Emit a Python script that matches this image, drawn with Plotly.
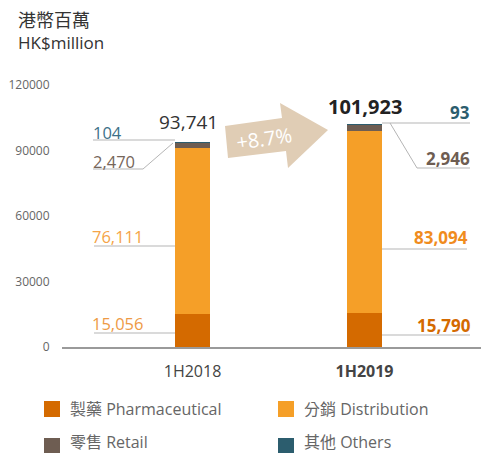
import plotly.graph_objects as go

# ---------------- data ----------------
categories = ["1H2018", "1H2019"]
tick_labels = ["1H2018", "<b>1H2019</b>"]
pharmaceutical = [15056, 15790]
distribution = [76111, 83094]
retail = [2470, 2946]
others = [104, 93]
totals = [93741, 101923]
growth_label = "+8.7%"
y_ticks = [0, 30000, 60000, 90000, 120000]

series_names = ["製藥 Pharmaceutical", "分銷 Distribution", "零售 Retail", "其他 Others"]
series_colors = ["#D46A00", "#F59F28", "#6E5D52", "#2C5D6E"]

FONT = "Open Sans, Noto Sans CJK TC, sans-serif"
PAGE_W, PAGE_H = 489, 453
OFF = 8  # default page body margin
W, H = PAGE_W - OFF, PAGE_H - OFF
L, R, T, B = 62, 488, 85, 347  # plot area in page pixels


def px(x):
    return (x - L) / (R - L)


def py(y):
    return (B - y) / (B - T)


fig = go.Figure()
xs = list(range(len(categories)))
for vals, name, col in zip([pharmaceutical, distribution, retail, others], series_names, series_colors):
    fig.add_trace(go.Bar(x=xs, y=vals, name=name, marker=dict(color=col, line=dict(width=0)),
                         width=35 / 172, showlegend=False, hoverinfo="y+name"))

shapes = []
annotations = []
LINE = dict(color="#B5B5B5", width=1)


def hline(x0, x1, y):
    shapes.append(dict(type="line", xref="paper", yref="paper", x0=px(x0), x1=px(x1),
                       y0=py(y), y1=py(y), line=LINE))


def path(points, **kw):
    d = "M " + " L ".join(f"{px(a)},{py(b)}" for a, b in points)
    if kw.get("closed"):
        d += " Z"
    s = dict(type="path", xref="paper", yref="paper", path=d)
    if kw.get("closed"):
        s.update(fillcolor=kw["fill"], line=dict(width=0))
    else:
        s.update(line=LINE)
    shapes.append(s)


def text(x, y, t, size, color, xanchor="center", bold=False, angle=0, align="center"):
    annotations.append(dict(xref="paper", yref="paper", x=px(x), y=py(y), text=f"<b>{t}</b>" if bold else t,
                            showarrow=False, xanchor=xanchor, yanchor="middle", textangle=angle, align=align,
                            borderpad=0, font=dict(family=FONT, size=size, color=color)))


def fmt(v):
    return f"{v:,}"


# ---- 1H2018 labels (left side) ----
hline(93, 175, 140)
text(92, 132, fmt(others[0]), 16.5, "#3C7088", "left")
path([(93, 169), (143, 169), (173, 143)])
text(92, 161, fmt(retail[0]), 16.5, "#76665A", "left")
hline(94, 175, 246)
text(91, 236, fmt(distribution[0]), 16.5, "#F5A447", "left")
hline(94, 175, 333)
text(91, 323, fmt(pharmaceutical[0]), 16.5, "#EE9A45", "left")
text(188, 122, fmt(totals[0]), 19, "#333333")

# ---- 1H2019 labels (right side) ----
hline(382, 470, 123)
text(471, 113, fmt(others[1]), 17, "#2C5D6E", "right", bold=True)
path([(390, 123), (417, 168), (470, 168)])
text(471, 158, fmt(retail[1]), 17, "#6E5D52", "right", bold=True)
hline(382, 467, 249)
text(469, 237, fmt(distribution[1]), 17, "#F08C1E", "right", bold=True)
hline(382, 470, 335)
text(472, 325, fmt(pharmaceutical[1]), 17, "#D46A00", "right", bold=True)
text(365, 106, fmt(totals[1]), 20, "#222222", bold=True)

# ---- growth arrow ----
path([(225, 126), (282, 118), (280, 103), (328, 130), (288, 168), (286, 151), (228, 158)],
     closed=True, fill="#E0CDB5")
text(264, 138, growth_label, 20, "#FFFFFF", angle=-8)

# ---- unit title ----
text(17, 31, "<span style='font-size:18px'>港幣百萬</span><br>HK$million", 17, "#333333", "left", align="left")

# ---- legend (manual) ----
legend_pos = [(44, 401), (278, 401), (44, 438), (278, 438)]
for (lx, ly), i in zip(legend_pos, range(len(series_names))):
    shapes.append(dict(type="rect", xref="paper", yref="paper", x0=px(lx), x1=px(lx + 16),
                       y0=py(ly), y1=py(ly + 16), fillcolor=series_colors[i], line=dict(width=0)))
    text(lx + 25, min(ly + 8, 442), series_names[i], 16, "#666666", "left")

fig.update_layout(
    width=W, height=H,
    margin=dict(l=L - OFF, r=PAGE_W - R, t=T - OFF, b=PAGE_H - B, pad=0),
    barmode="stack",
    plot_bgcolor="white", paper_bgcolor="white",
    font=dict(family=FONT),
    shapes=shapes, annotations=annotations,
    showlegend=False,
    xaxis=dict(range=[-(192.5 - L) / 172, (R - 192.5) / 172], tickvals=xs, ticktext=tick_labels,
               showline=True, linecolor="#9A9A9A", linewidth=2, showgrid=False, zeroline=False,
               ticks="outside", ticklen=9, tickcolor="rgba(0,0,0,0)",
               tickfont=dict(family=FONT, size=16, color="#444444"), fixedrange=True),
    yaxis=dict(range=[0, 120000], tickvals=y_ticks, ticktext=[str(v) for v in y_ticks],
               showline=False, showgrid=False, zeroline=False,
               ticks="outside", ticklen=9, tickcolor="rgba(0,0,0,0)",
               tickfont=dict(family=FONT, size=12, color="#666666"), fixedrange=True),
)

fig.write_html("out.html")
